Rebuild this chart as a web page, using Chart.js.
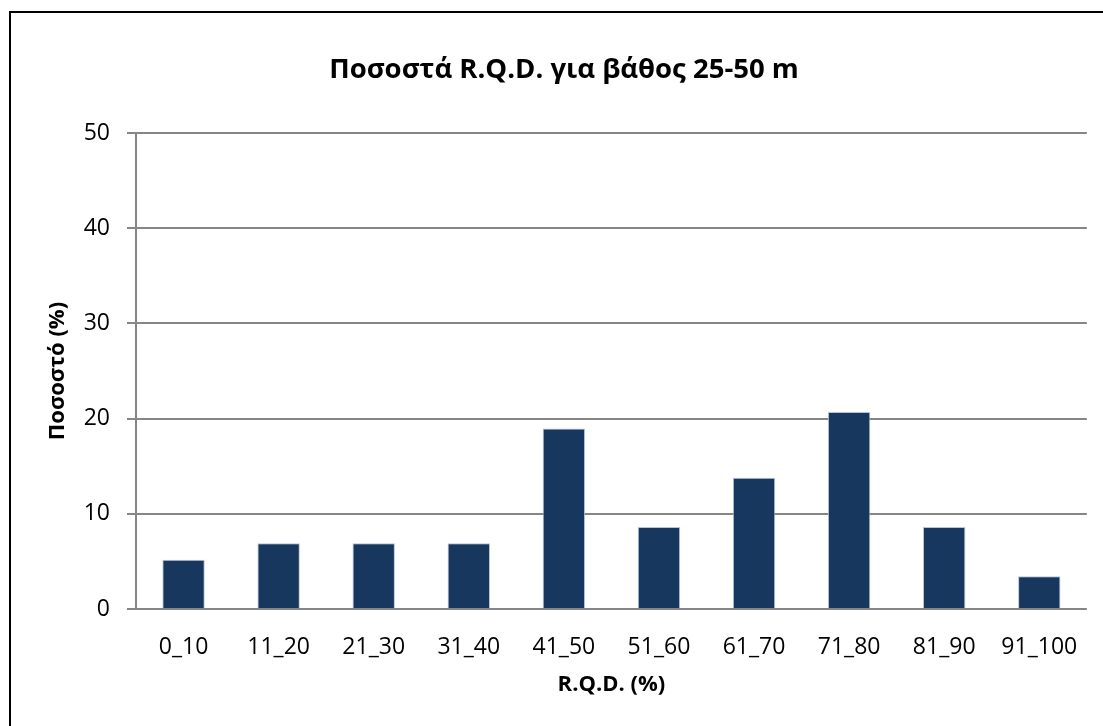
<!DOCTYPE html>
<html>
<head>
<meta charset="utf-8">
<script src="https://cdn.jsdelivr.net/npm/chart.js@4"></script>
<style>
  html, body { margin: 0; padding: 0; background: #fff; overflow: hidden; }
  #frame {
    position: absolute; left: 9px; top: 11px;
    width: 2000px; height: 2000px;
    border-left: 2px solid #000; border-top: 2px solid #000;
  }
  #wrap { position: absolute; left: 25px; top: 0; width: 1078px; height: 726px; }
</style>
</head>
<body>
<div id="frame"></div>
<div id="wrap"><canvas id="rqdChart"></canvas></div>
<script>
// ---------- DATA ----------
const categories = ["0_10", "11_20", "21_30", "31_40", "41_50", "51_60", "61_70", "71_80", "81_90", "91_100"];
const percentages = [5.17, 6.90, 6.90, 6.90, 18.97, 8.62, 13.79, 20.69, 8.62, 3.45];
const yTicks = [0, 10, 20, 30, 40, 50];

const chartTitle = "Ποσοστά R.Q.D. για βάθος 25-50 m";
const xTitle = "R.Q.D. (%)";
const yTitle = "Ποσοστό (%)";

const FONT = "'Open Sans', 'Noto Sans', sans-serif";
const GRID = "#868686";

// ---------- CHART ----------
const ctx = document.getElementById("rqdChart").getContext("2d");

new Chart(ctx, {
  type: "bar",
  data: {
    labels: categories,
    datasets: [
      {
        data: percentages,
        backgroundColor: "#17375e",
        borderColor: "rgba(175,190,212,0.9)",
        borderWidth: 1,
        barPercentage: 0.446,
        categoryPercentage: 1,
      },
    ],
  },
  options: {
    responsive: true,
    maintainAspectRatio: false,
    animation: false,
    layout: { padding: { left: 16, right: 16, top: 0, bottom: 0 } },
    plugins: {
      legend: { display: false },
      tooltip: { enabled: false },
      title: {
        display: true,
        text: chartTitle,
        color: "#000",
        font: { family: FONT, size: 27.5, weight: "bold" },
        padding: { top: 54, bottom: 46 },
      },
    },
    scales: {
      x: {
        grid: { display: false, drawTicks: false },
        border: { display: false },
        ticks: {
          color: "#000",
          padding: 25,
          maxRotation: 0,
          font: { family: FONT, size: 23 },
        },
        title: {
          display: true,
          text: xTitle,
          color: "#000",
          font: { family: FONT, size: 22, weight: "bold" },
          padding: { top: 8, bottom: 28 },
        },
        afterFit: (scale) => {
          scale.height = 117;
        },
      },
      y: {
        min: 0,
        max: 50,
        afterBuildTicks: (scale) => {
          scale.ticks = yTicks.map((v) => ({ value: v }));
        },
        grid: { color: GRID, lineWidth: 2, tickLength: 9 },
        border: { display: true, color: GRID, width: 2 },
        ticks: {
          color: "#000",
          padding: 17,
          font: { family: FONT, size: 23 },
        },
        title: {
          display: true,
          text: yTitle,
          color: "#000",
          font: { family: FONT, size: 22, weight: "bold" },
          padding: { top: 4, bottom: 0 },
        },
        afterFit: (scale) => {
          scale.width = 95;
        },
      },
    },
  },
});
</script>
</body>
</html>
